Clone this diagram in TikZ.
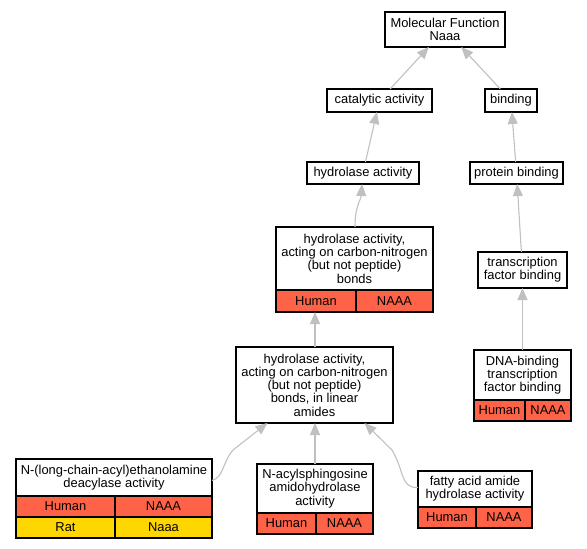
\documentclass[tikz,border=0pt]{standalone}
\usepackage{fontspec}
\setmainfont{Liberation Sans}
\usetikzlibrary{arrows.meta}
\definecolor{hum}{HTML}{FF6347}
\definecolor{rat}{HTML}{FFD700}
\definecolor{edgec}{HTML}{C0C0C0}
\begin{document}
\begin{tikzpicture}[x=1pt,y=-1pt,
  box/.style={draw=black, line width=1.1pt, fill=white, inner sep=0pt, outer sep=0pt},
  lbl/.style={inner sep=0pt, align=center, font=\fontsize{12.9}{13.3}\selectfont},
  cell/.style={draw=black, line width=1.1pt, inner sep=0pt, outer sep=0pt, font=\fontsize{12.9}{13.3}\selectfont},
  edge/.style={draw=edgec, line width=1.1pt, -{Triangle[length=12pt,width=10pt,fill=edgec]}}]
\useasboundingbox (0,0) rectangle (587,549);
% Molecular Function
\node[box, minimum width=120pt, minimum height=35pt] (mf) at (445,29.5) {};
\node[lbl] (mft) at (445,29.5) {Molecular Function\\Naaa};
% catalytic activity
\node[box, minimum width=105pt, minimum height=23pt] (cat) at (379.5,100.5) {};
\node[lbl] (catt) at (379.5,100.5) {catalytic activity};
% binding
\node[box, minimum width=52pt, minimum height=23pt] (bind) at (511,100.5) {};
\node[lbl] (bindt) at (511,100.5) {binding};
% hydrolase activity
\node[box, minimum width=112pt, minimum height=22pt] (hyd) at (363,173) {};
\node[lbl] (hydt) at (363,173) {hydrolase activity};
% protein binding
\node[box, minimum width=93pt, minimum height=22pt] (prot) at (516.5,173) {};
\node[lbl] (prott) at (516.5,173) {protein binding};
% hydrolase CN
\node[box, minimum width=157pt, minimum height=85pt] (cn) at (354.5,269.5) {};
\node[lbl] (cnt) at (354.5,258.5) {hydrolase activity,\\acting on carbon-nitrogen\\(but not peptide)\\bonds};
\node[cell, fill=hum, minimum width=80pt, minimum height=22pt] (cnh) at (316,301) {Human};
\node[cell, fill=hum, minimum width=77pt, minimum height=22pt] (cng) at (394.5,301) {NAAA};
% transcription factor binding
\node[box, minimum width=89pt, minimum height=36pt] (tfb) at (522.5,270) {};
\node[lbl] (tfbt) at (522.5,270) {transcription\\factor binding};
% DNA-binding
\node[box, minimum width=97pt, minimum height=71pt] (dna) at (522.5,385.5) {};
\node[lbl] (dnat) at (522.5,375) {DNA-binding\\transcription\\factor binding};
\node[cell, fill=hum, minimum width=51pt, minimum height=21pt] (dnah) at (499.5,410.5) {Human};
\node[cell, fill=hum, minimum width=46pt, minimum height=21pt] (dnag) at (548,410.5) {NAAA};
% linear amides
\node[box, minimum width=157pt, minimum height=76pt] (la) at (314.5,385) {};
\node[lbl] (lat) at (314.5,385) {hydrolase activity,\\acting on carbon-nitrogen\\(but not peptide)\\bonds, in linear\\amides};
% N-(long-chain-acyl)
\node[box, minimum width=196pt, minimum height=79pt] (nl) at (114,498.5) {};
\node[lbl] (nlt) at (114,477.5) {N-(long-chain-acyl)ethanolamine\\deacylase activity};
\node[cell, fill=hum, minimum width=99pt, minimum height=21pt] (nlh) at (65.5,506.5) {Human};
\node[cell, fill=hum, minimum width=97pt, minimum height=21pt] (nlg) at (163.5,506.5) {NAAA};
\node[cell, fill=rat, minimum width=99pt, minimum height=21pt] (nlr) at (65.5,527.5) {Rat};
\node[cell, fill=rat, minimum width=97pt, minimum height=21pt] (nlrg) at (163.5,527.5) {Naaa};
% N-acylsphingosine
\node[box, minimum width=116pt, minimum height=70pt] (na) at (315,499) {};
\node[lbl] (nat) at (315,488.5) {N-acylsphingosine\\amidohydrolase\\activity};
\node[cell, fill=hum, minimum width=59pt, minimum height=21pt] (nah) at (286.5,523.5) {Human};
\node[cell, fill=hum, minimum width=57pt, minimum height=21pt] (nag) at (344.5,523.5) {NAAA};
% fatty acid amide
\node[box, minimum width=114pt, minimum height=57pt] (fa) at (475,499.5) {};
\node[lbl] (fat) at (475,489) {fatty acid amide\\hydrolase activity};
\node[cell, fill=hum, minimum width=58pt, minimum height=21pt] (fah) at (447,517.5) {Human};
\node[cell, fill=hum, minimum width=56pt, minimum height=21pt] (fag) at (504,517.5) {NAAA};
% redraw outlines
\foreach \n in {cn,dna,nl,na,fa} \draw[black, line width=1.1pt] (\n.north west) rectangle (\n.south east);
% edges
\draw[edge] (cat) -- (mf);
\draw[edge] (bind) -- (mf);
\draw[edge] (hyd) -- (cat);
\draw[edge] (prot) -- (bind);
\draw[edge] ([xshift=0.5pt]cn.north) .. controls (355,205) and (361,200) .. ([xshift=-1pt]hyd.south);
\draw[edge] (tfb) -- (prot);
\draw[edge] (dna) -- (tfb);
\draw[edge] ([xshift=0.5pt]la.north) -- ([xshift=0.5pt]la.north |- cn.south);
\draw[edge] (na.north) -- (na.north |- la.south);
\coordinate (nlc) at ([yshift=-21.5pt]nl.north east);
\coordinate (nlk) at (233,450);
\draw[edge] (nlc) .. controls (224,477) and (222,463) .. (nlk) -- ([xshift=-47pt]la.south);
\coordinate (fac) at ([yshift=-16.5pt]fa.north west);
\coordinate (fak) at (392,450);
\draw[edge] (fac) .. controls (400,488) and (405,472) .. (fak) -- ([xshift=50pt]la.south);
\end{tikzpicture}
\end{document}
